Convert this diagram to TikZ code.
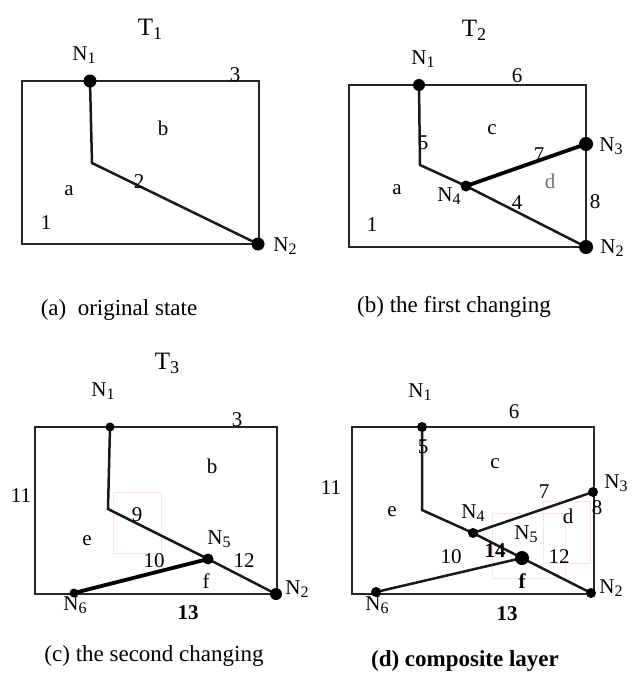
\documentclass[tikz,border=0pt]{standalone}
\usepackage{fontspec}
\setmainfont{Liberation Serif}
\usepackage{tikz}

\newcommand{\lblfont}{\fontsize{21}{23}\selectfont}
\newcommand{\Nlab}[1]{N\raisebox{-0.35ex}{\fontsize{16}{16}\selectfont #1}}
\newcommand{\Tlab}[1]{T\raisebox{-0.35ex}{\fontsize{18}{18}\selectfont #1}}

\begin{document}
\begin{tikzpicture}[x=1pt, y=-1pt,
    frame/.style={draw=black!85, line width=2.2pt},
    edge/.style={draw=black!90, line width=2.5pt},
    heavy/.style={draw=black, line width=3.8pt},
    vtx/.style={circle, fill=black, inner sep=0pt, minimum size=#1},
    lbl/.style={font=\lblfont, inner sep=0pt},
    ttl/.style={font=\fontsize{25}{28}\selectfont, inner sep=0pt},
    captxt/.style={font=\fontsize{23}{26}\selectfont, inner sep=0pt},
    ghost/.style={draw=magenta!12, line width=0.6pt}
]
\useasboundingbox (0,0) rectangle (635,675);

% (a) original state
\coordinate (a-tl) at (22,81);
\coordinate (a-br) at (259,244);
\coordinate (a-n1) at (90,81);
\coordinate (a-k) at (92,163);
\coordinate (a-n2) at (258,244);
\draw[frame] (a-tl) rectangle (a-br);
\draw[edge] (a-n1) -- (a-k) -- (a-n2);
\node[vtx=13pt] (a-d1) at (a-n1) {};
\node[vtx=13pt] (a-d2) at (a-n2) {};
\node[ttl] (a-t) at (150,29) {\Tlab{1}};
\node[lbl] (a-l1) at (84,55) {\Nlab{1}};
\node[lbl] (a-l2) at (285,246) {\Nlab{2}};
\node[lbl] (a-e3) at (235,75) {3};
\node[lbl] (a-e2) at (139,182) {2};
\node[lbl] (a-e1) at (46,223) {1};
\node[lbl] (a-fb) at (163,128) {b};
\node[lbl] (a-fa) at (69,191) {a};
\node[captxt] (a-cap) at (119,310) {(a)\ \ original state};

% (b) the first changing
\coordinate (b-tl) at (349,85);
\coordinate (b-br) at (586,247);
\coordinate (b-n1) at (419,85);
\coordinate (b-k) at (420,165);
\coordinate (b-n4) at (466,186);
\coordinate (b-n2) at (586,247);
\coordinate (b-n3) at (586,144);
\draw[frame] (b-tl) rectangle (b-br);
\draw[edge] (b-n1) -- (b-k) -- (b-n4) -- (b-n2);
\draw[heavy] (b-n4) -- (b-n3);
\node[vtx=12pt] (b-d1) at (b-n1) {};
\node[vtx=14pt] (b-d2) at (b-n2) {};
\node[vtx=14pt] (b-d3) at (b-n3) {};
\node[vtx=11pt] (b-d4) at (b-n4) {};
\node[ttl] (b-t) at (474,30) {\Tlab{2}};
\node[lbl] (b-l1) at (423,59) {\Nlab{1}};
\node[lbl] (b-l3) at (611,146) {\Nlab{3}};
\node[lbl] (b-l4) at (449,196) {\Nlab{4}};
\node[lbl] (b-l2) at (612,248) {\Nlab{2}};
\node[lbl] (b-e6) at (517,76) {6};
\node[lbl] (b-e5) at (423,143) {5};
\node[lbl] (b-e7) at (539,155) {7};
\node[lbl] (b-e4) at (517,203) {4};
\node[lbl] (b-e8) at (595,202) {8};
\node[lbl] (b-e1) at (372,225) {1};
\node[lbl] (b-fc) at (492,130) {c};
\node[lbl, text=black!55] (b-fd) at (550,181) {d};
\node[lbl] (b-fa) at (397,190) {a};
\node[captxt] (b-cap) at (454,307) {(b) the first changing};

% (c) the second changing
\coordinate (c-tl) at (35,427);
\coordinate (c-br) at (277,594);
\coordinate (c-n1) at (110,427);
\coordinate (c-k) at (108,509);
\coordinate (c-n5) at (208,559);
\coordinate (c-n2) at (276,594);
\coordinate (c-n6) at (74,593);
\draw[ghost] (113,492) rectangle (161,553);
\draw[frame] (c-tl) rectangle (c-br);
\draw[edge] (c-n1) -- (c-k) -- (c-n5) -- (c-n2);
\draw[heavy] (c-n6) -- (c-n5);
\node[vtx=9pt] (c-d1) at (c-n1) {};
\node[vtx=11pt] (c-d5) at (c-n5) {};
\node[vtx=9pt] (c-d6) at (c-n6) {};
\node[vtx=12pt] (c-d2) at (c-n2) {};
\node[ttl] (c-t) at (167,363) {\Tlab{3}};
\node[lbl] (c-l1) at (103,391) {\Nlab{1}};
\node[lbl] (c-l5) at (219,539) {\Nlab{5}};
\node[lbl] (c-l2) at (297,589) {\Nlab{2}};
\node[lbl] (c-l6) at (75,605) {\Nlab{6}};
\node[lbl] (c-e3) at (237,420) {3};
\node[lbl] (c-e11) at (21,496) {11};
\node[lbl] (c-e9) at (137,515) {9};
\node[lbl] (c-e10) at (154,561) {10};
\node[lbl] (c-e12) at (244,561) {12};
\node[lbl, font=\lblfont\bfseries] (c-e13) at (188,613) {13};
\node[lbl] (c-fb) at (212,466) {b};
\node[lbl] (c-fe) at (87,541) {e};
\node[lbl] (c-ff) at (206,581) {f};
\node[captxt] (c-cap) at (154,656) {(c) the second changing};

% (d) composite layer
\coordinate (d-tl) at (352,427);
\coordinate (d-br) at (594,594);
\coordinate (d-n1) at (422,427);
\coordinate (d-k) at (422,510);
\coordinate (d-n4) at (473,533);
\coordinate (d-n5) at (522,558);
\coordinate (d-n2) at (591,593);
\coordinate (d-n3) at (593,492);
\coordinate (d-n6) at (376,592);
\draw[ghost] (492,513) rectangle (565,578);
\draw[ghost] (543,501) rectangle (590,563);
\draw[frame] (d-tl) rectangle (d-br);
\draw[edge] (d-n1) -- (d-k) -- (d-n4) -- (d-n5) -- (d-n2);
\draw[edge] (d-n4) -- (d-n3);
\draw[edge] (d-n6) -- (d-n5);
\node[vtx=10pt] (d-d1) at (d-n1) {};
\node[vtx=10pt] (d-d3) at (d-n3) {};
\node[vtx=10pt] (d-d4) at (d-n4) {};
\node[vtx=14pt] (d-d5) at (d-n5) {};
\node[vtx=10pt] (d-d6) at (d-n6) {};
\node[vtx=10pt] (d-d2) at (d-n2) {};
\node[lbl] (d-l1) at (420,392) {\Nlab{1}};
\node[lbl] (d-l3) at (616,483) {\Nlab{3}};
\node[lbl] (d-l4) at (473,513) {\Nlab{4}};
\node[lbl] (d-l5) at (526,534) {\Nlab{5}};
\node[lbl] (d-l2) at (611,588) {\Nlab{2}};
\node[lbl] (d-l6) at (377,605) {\Nlab{6}};
\node[lbl] (d-e6) at (514,412) {6};
\node[lbl] (d-e5) at (423,447) {5};
\node[lbl] (d-e11) at (331,488) {11};
\node[lbl] (d-e7) at (544,492) {7};
\node[lbl] (d-e8) at (597,508) {8};
\node[lbl] (d-e10) at (451,557) {10};
\node[lbl, font=\lblfont\bfseries] (d-e14) at (495,551) {14};
\node[lbl] (d-e12) at (559,557) {12};
\node[lbl, font=\lblfont\bfseries] (d-e13) at (507,614) {13};
\node[lbl] (d-fc) at (495,464) {c};
\node[lbl] (d-fe) at (392,512) {e};
\node[lbl] (d-fd) at (568,516) {d};
\node[lbl, font=\lblfont\bfseries] (d-ff) at (522,581) {f};
\node[captxt, font=\fontsize{23}{26}\selectfont\bfseries] (d-cap) at (465,661) {(d) composite layer};

\end{tikzpicture}
\end{document}
